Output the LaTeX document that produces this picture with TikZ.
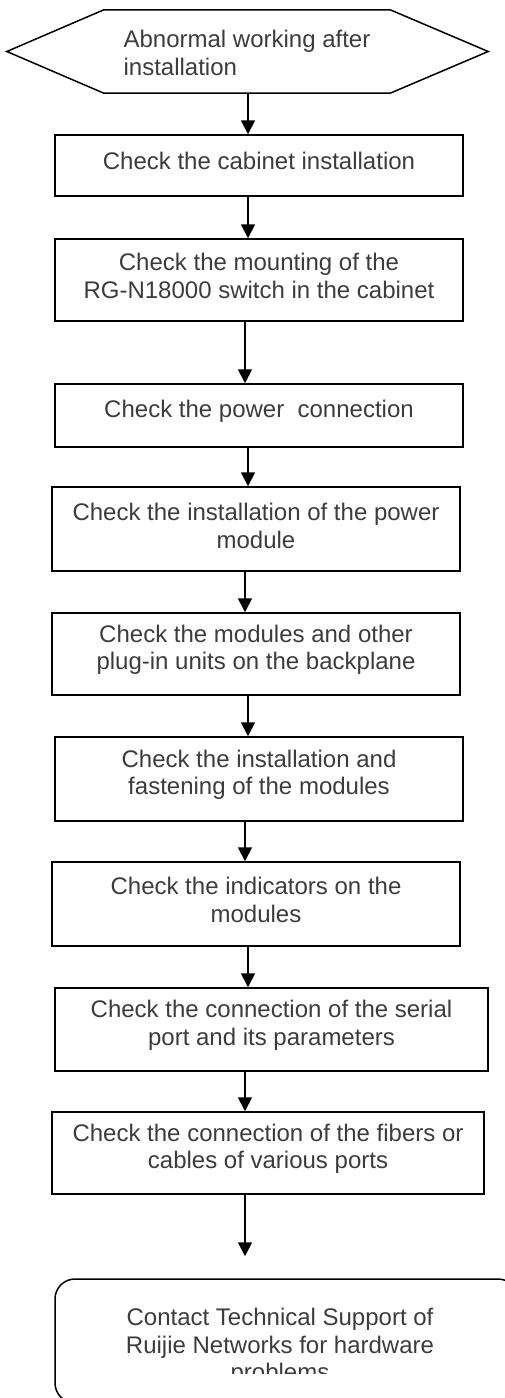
\documentclass[tikz,border=0pt]{standalone}
\usepackage{fontspec}
\setmainfont{Liberation Sans}
\usetikzlibrary{arrows.meta,calc}
\definecolor{txtc}{RGB}{60,60,60}
\begin{document}
\begin{tikzpicture}[x=1pt,y=-1pt,
  frame/.style={draw=black, line width=1.5pt, inner sep=0pt},
  bx/.style={frame, minimum width=#1, minimum height=83pt},
  txt/.style={text=txtc, align=center, inner sep=0pt, font=\fontsize{24}{27.5}\selectfont},
  arr/.style={draw=black, line width=1.8pt, -{Triangle[width=14pt,length=14pt]}}
]
\useasboundingbox (0,0) rectangle (505,1398);
\clip (0,0) rectangle (505,1398);

% start hexagon
\node[inner sep=0pt, minimum width=286pt, minimum height=83pt] (start) at (247,51.5) {};
\draw[line width=1.5pt, line join=miter] (start.north west) -- ($(start.west)+(-97pt,0)$) -- (start.south west)
  -- (start.south east) -- ($(start.east)+(98pt,0)$) -- (start.north east) -- cycle;
\node[txt, align=left] (starttxt) at (247,53) {Abnormal working after\\installation};

% boxes
\node[bx=408pt, minimum height=61pt] (b1) at (259,165.5) {};
\node[txt] (t1) at ([yshift=5pt]b1.center) {Check the cabinet installation};

\node[bx=408pt, minimum height=82pt] (b2) at (259,280) {};
\node[txt] (t2) at ([yshift=4pt]b2.center) {Check the mounting of the\\RG-N18000 switch in the cabinet};

\node[bx=408pt, minimum height=63pt] (b3) at (259,415.5) {};
\node[txt] (t3) at ([yshift=4pt]b3.center) {Check the power\ \ connection};

\node[bx=408pt, minimum height=84pt] (b4) at (256,529) {};
\node[txt] (t4) at ([yshift=3pt]b4.center) {Check the installation of the power\\module};

\node[bx=408pt, minimum height=82pt] (b5) at (256,654) {};
\node[txt] (t5) at ([yshift=4pt]b5.center) {Check the modules and other\\plug-in units on the backplane};

\node[bx=408pt, minimum height=84pt] (b6) at (259,779) {};
\node[txt] (t6) at ([yshift=4pt]b6.center) {Check the installation and\\fastening of the modules};

\node[bx=408pt, minimum height=84pt] (b7) at (256,904) {};
\node[txt] (t7) at ([yshift=4pt]b7.center) {Check the indicators on the\\modules};

\node[bx=433pt, minimum height=83pt] (b8) at (271.5,1029.5) {};
\node[txt] (t8) at ([yshift=4pt]b8.center) {Check the connection of the serial\\port and its parameters};

\node[bx=432pt, minimum height=82pt] (b9) at (268,1153) {};
\node[txt] (t9) at ([yshift=4pt]b9.center) {Check the connection of the fibers or\\cables of various ports};

\node[frame, rounded corners=20pt, minimum width=463pt, minimum height=124pt] (final) at (286.5,1341) {};
\begin{scope}
  \clip (0,0) rectangle (505,1373);
  \node[txt, anchor=north] (finaltxt) at (280,1308) {Contact Technical Support of\\Ruijie Networks for hardware\\problems};
\end{scope}

% connectors
\coordinate (ax1) at (248,0);
\coordinate (ax2) at (245,0);
\draw[arr] (start.south -| ax1) -- (b1.north -| ax1);
\draw[arr] (b1.south -| ax1) -- (b2.north -| ax1);
\draw[arr] (b2.south -| ax2) -- (b3.north -| ax2);
\draw[arr] (b3.south -| ax1) -- (b4.north -| ax1);
\draw[arr] (b4.south -| ax2) -- (b5.north -| ax2);
\draw[arr] (b5.south -| ax1) -- (b6.north -| ax1);
\draw[arr] (b6.south -| ax2) -- (b7.north -| ax2);
\draw[arr] (b7.south -| ax1) -- (b8.north -| ax1);
\draw[arr] (b8.south -| ax2) -- (b9.north -| ax2);
\draw[arr, shorten >=22pt] (b9.south -| ax2) -- (final.north -| ax2);
\end{tikzpicture}
\end{document}
